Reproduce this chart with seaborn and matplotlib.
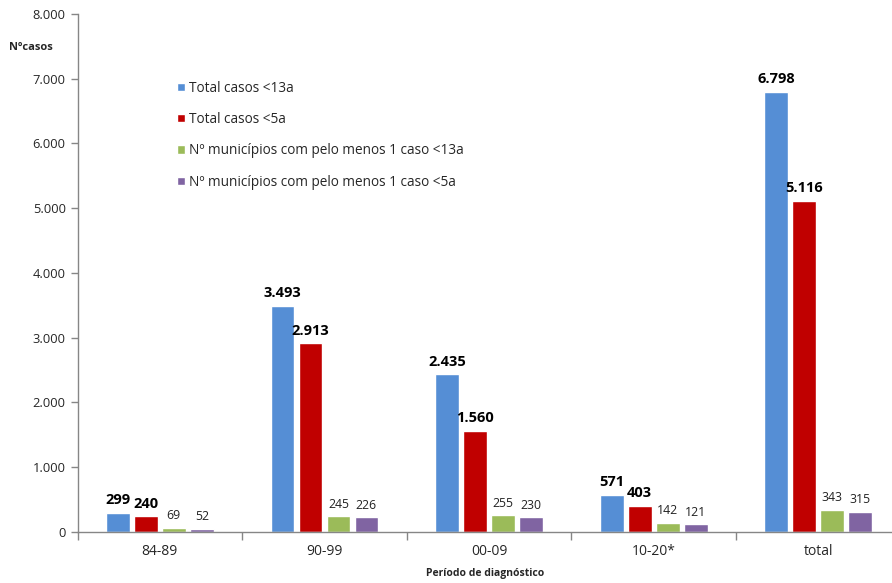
import matplotlib
matplotlib.use("Agg")
import matplotlib.pyplot as plt
import seaborn as sns
import pandas as pd
from matplotlib.ticker import FuncFormatter, FixedLocator

categories = ["84-89", "90-99", "00-09", "10-20*", "total"]
series = ["Total casos <13a", "Total casos <5a",
          "Nº municípios com pelo menos 1 caso <13a",
          "Nº municípios com pelo menos 1 caso <5a"]
casos13 = [299, 3493, 2435, 571, 6798]
casos5 = [240, 2913, 1560, 403, 5116]
mun13 = [69, 245, 255, 142, 343]
mun5 = [52, 226, 230, 121, 315]
colors = ["#558ED5", "#C00000", "#9BBB59", "#8064A2"]

rows = []
for s, vals in zip(series, [casos13, casos5, mun13, mun5]):
    for c, v in zip(categories, vals):
        rows.append({"Período": c, "Série": s, "valor": v})
df = pd.DataFrame(rows)

sns.set_style("white")
plt.rcParams["font.family"] = ["Open Sans", "DejaVu Sans"]

fig = plt.figure(figsize=(8.92, 5.83), dpi=100)
ax = fig.add_axes([0.0869, 0.0875, 0.9131, 0.8885])

sns.barplot(data=df, x="Período", y="valor", hue="Série", order=categories,
            hue_order=series, palette=colors, width=0.68, gap=0.15,
            saturation=1, ax=ax, legend=True)

def fmt(v):
    return f"{v:,.0f}".replace(",", ".")

for i, cont in enumerate(ax.containers):
    labels = [fmt(b.get_height()) for b in cont]
    if i < 2:
        ax.bar_label(cont, labels=labels, padding=4, fontsize=10.5,
                     fontweight="bold", color="black")
    else:
        ax.bar_label(cont, labels=labels, padding=4, fontsize=8.8,
                     color="#222222")

ax.set_ylim(0, 8000)
ax.set_xlim(-0.5, 4.448)
ax.yaxis.set_major_locator(FixedLocator(range(0, 8001, 1000)))
ax.yaxis.set_major_formatter(FuncFormatter(lambda v, p: fmt(v)))

ax.set_xticks(range(len(categories)))
ax.set_xticklabels(categories)
ax.set_xticks([-0.5, 0.5, 1.5, 2.5, 3.5], minor=True)
ax.tick_params(axis="x", which="major", length=0, labelsize=10, pad=9)
ax.tick_params(axis="x", which="minor", length=6, width=1, color="#868686",
               direction="out", bottom=True)
ax.tick_params(axis="y", length=5, width=1, color="#868686", direction="out",
               labelsize=9.3, left=True)

for side in ["top", "right"]:
    ax.spines[side].set_visible(False)
for side in ["left", "bottom"]:
    ax.spines[side].set_color("#868686")
    ax.spines[side].set_linewidth(1)

ax.set_ylabel("")
ax.set_xlabel("Período de diagnóstico", fontsize=7.5, fontweight="bold", labelpad=6)
fig.text(31 / 892, 1 - 47 / 583, "Nºcasos", fontsize=8, fontweight="bold",
         ha="center", va="center")

leg = ax.legend(loc="upper left", bbox_to_anchor=(0.107, 0.895), frameon=False,
                fontsize=9.8, handlelength=0.6, handleheight=0.6,
                labelspacing=1.2, handletextpad=0.3)

fig.savefig("out.png", dpi=100)
